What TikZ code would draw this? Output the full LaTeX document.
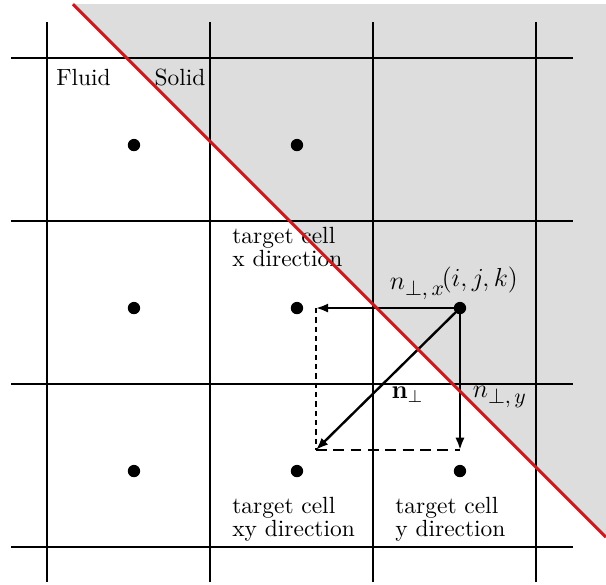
\documentclass[tikz,border=0pt]{standalone}
\usepackage{amsmath,amssymb}
\usepackage{tikz}
\usetikzlibrary{arrows.meta, positioning, calc}
\definecolor{wallred}{RGB}{204,24,30}
\definecolor{solidgray}{RGB}{221,221,221}
\newcommand{\nsub}[1]{n_{\mbox{\normalsize$#1$}}}

\begin{document}
\begin{tikzpicture}[x=2.64cm, y=2.64cm,
  gridline/.style={line width=0.9pt},
  dot/.style={circle, fill, inner sep=0pt, minimum size=2mm},
  vec/.style={line width=1.1pt, -{Latex[length=2mm, width=1.5mm]}},
  txt/.style={font=\fontsize{10.8}{10.6}\selectfont},
  lbl/.style={txt, align=left, inner sep=0pt, anchor=west},
  mlbl/.style={inner sep=0pt, font=\large},
]
\useasboundingbox (-0.288,-0.233) rectangle (3.43,3.356);
% solid region
\fill[solidgray] (0.16,3.33) -- (3.43,3.33) -- (3.43,0.06) -- cycle;
% grid
\foreach \k in {0,...,3} {
  \draw[gridline] (-0.22,\k) -- (3.23,\k);
  \draw[gridline] (\k,-0.215) -- (\k,3.22);
}
% cell centres
\node[dot] (c02) at (0.534,2.466) {};
\node[dot] (c12) at (1.534,2.466) {};
\node[dot] (c01) at (0.534,1.466) {};
\node[dot] (c11) at (1.534,1.466) {};
\node[dot] (ijk) at (2.534,1.466) {};
\node[dot] (c00) at (0.534,0.466) {};
\node[dot] (c10) at (1.534,0.466) {};
\node[dot] (c20) at (2.534,0.466) {};
% normal vector and components
\coordinate (nx) at (1.65,1.466);
\coordinate (ny) at (2.534,0.595);
\coordinate (nxy) at (1.65,0.595);
\draw[line width=0.6pt, dash pattern=on 2.5pt off 1.8pt] (nx) -- (nxy);
\draw[line width=1pt, dash pattern=on 5pt off 3pt] (nxy) -- (ny);
\draw[vec] (ijk.center) -- (nx);
\draw[vec] (ijk.center) -- (ny);
\draw[vec] (ijk.center) -- (nxy);
% labels
\node[txt] (fluid) at (0.224,2.88) {Fluid};
\node[txt] (solid) at (0.816,2.88) {Solid};
\node[lbl] (tx) at (1.135,1.843) {target cell\\x direction};
\node[lbl] (txy) at (1.135,0.17) {target cell\\xy direction};
\node[lbl] (ty) at (2.135,0.17) {target cell\\y direction};
\node[mlbl] (lnx) at (2.273,1.583) {$\nsub{\perp,x}$};
\node[mlbl] (lijk) at (2.656,1.638) {$(i,j,k)$};
\node[mlbl] (ln) at (2.212,0.933) {$\mathbf{n}_{\perp}$};
\node[mlbl] (lny) at (2.779,0.92) {$\nsub{\perp,y}$};
% wall
\draw[wallred, line width=1.4pt] (0.16,3.33) -- (3.43,0.06);
\end{tikzpicture}
\end{document}
